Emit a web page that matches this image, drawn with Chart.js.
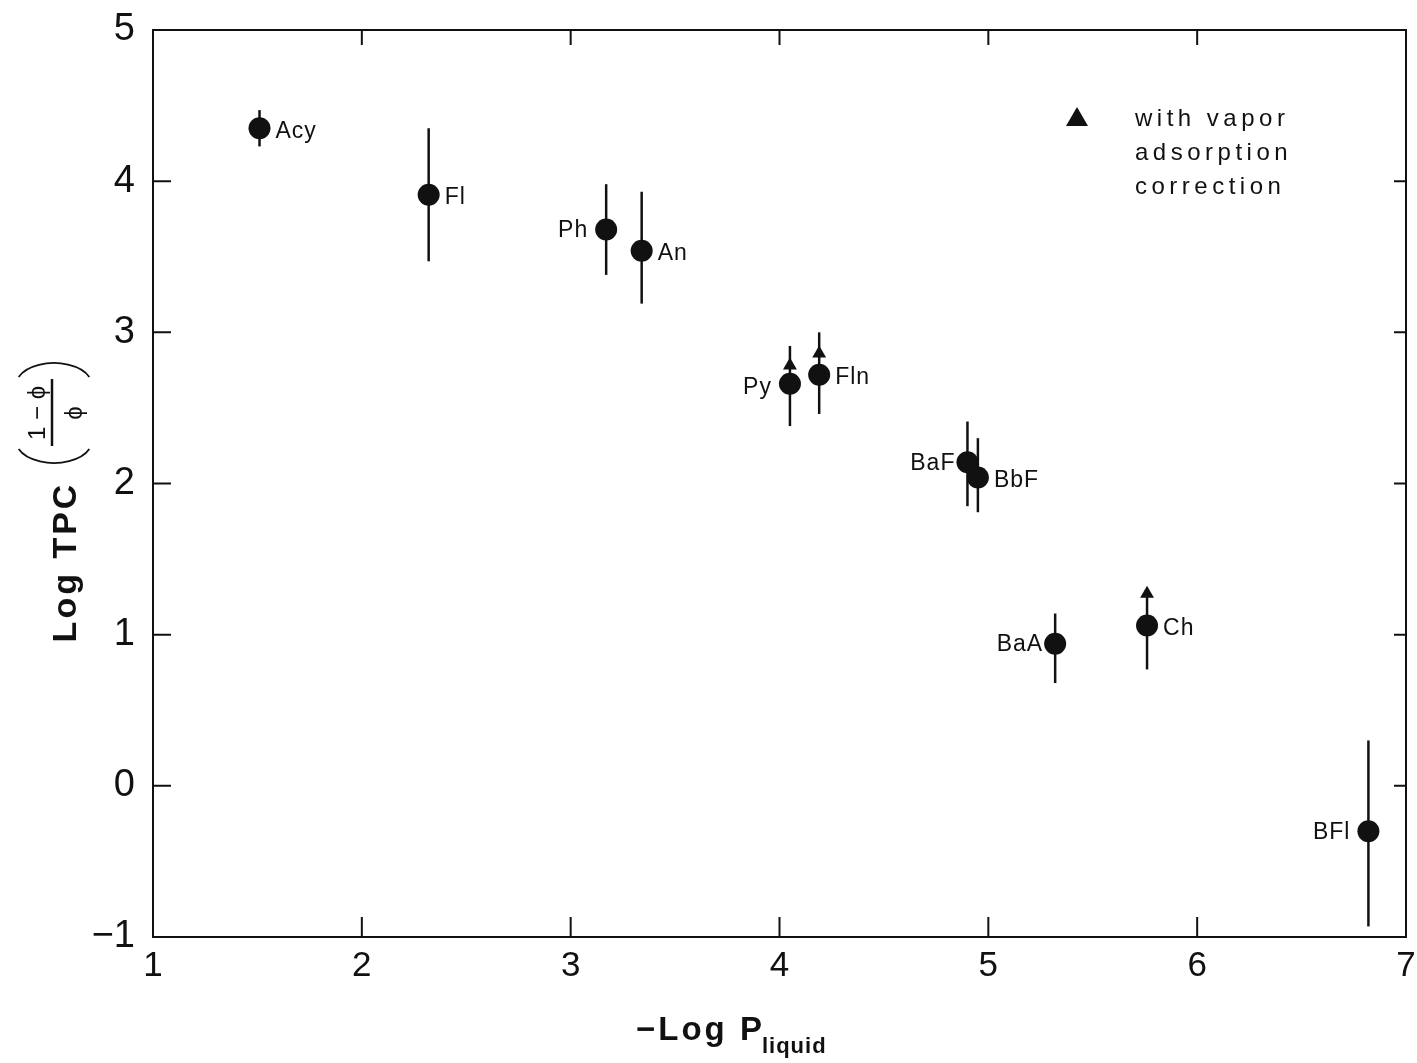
<!DOCTYPE html>
<html>
<head>
<meta charset="utf-8">
<script src="https://cdn.jsdelivr.net/npm/chart.js@4.4.1/dist/chart.umd.min.js"></script>
<style>
  html, body { margin: 0; padding: 0; background: #fff; }
  #wrap { width: 1417px; height: 1063px; }
</style>
</head>
<body>
<div id="wrap"><canvas id="chart" width="1417" height="1063"></canvas></div>
<script>
// compounds, -log P(liquid), log TPC and error bar ends
const names  = ['Acy', 'Fl', 'Ph', 'An', 'Py', 'Fln', 'BaF', 'BbF', 'BaA', 'Ch', 'BFl'];
const logP   = [1.51, 2.32, 3.17, 3.34, 4.05, 4.19, 4.90, 4.95, 5.32, 5.76, 6.82];
const logTPC = [4.35, 3.91, 3.68, 3.54, 2.66, 2.72, 2.14, 2.04, 0.94, 1.06, -0.30];
const errHi  = [4.47, 4.35, 3.98, 3.93, 2.91, 3.00, 2.41, 2.30, 1.14, 1.27, 0.30];
const errLo  = [4.23, 3.47, 3.38, 3.19, 2.38, 2.46, 1.85, 1.81, 0.68, 0.77, -0.93];
// vapor adsorption corrected values
const corrX  = [4.05, 4.19, 5.76];
const corrY  = [2.78, 2.86, 1.27];
const xTicks = [1, 2, 3, 4, 5, 6, 7];
const yTicks = [-1, 0, 1, 2, 3, 4, 5];

const labelLeft = ['Ph', 'Py', 'BaF', 'BaA', 'BFl'];
const ink = '#111';
const font = '"Liberation Sans", Arial, sans-serif';

const errorBars = {
  id: 'errorBars',
  beforeDatasetsDraw(chart) {
    const {ctx, scales: {x, y}} = chart;
    ctx.save();
    ctx.strokeStyle = ink;
    ctx.lineWidth = 2.5;
    logP.forEach((v, i) => {
      const px = x.getPixelForValue(v);
      ctx.beginPath();
      ctx.moveTo(px, y.getPixelForValue(errHi[i]));
      ctx.lineTo(px, y.getPixelForValue(errLo[i]));
      ctx.stroke();
    });
    ctx.restore();
  }
};

const decorations = {
  id: 'decorations',
  afterDraw(chart) {
    const {ctx, chartArea: a, scales: {x, y}} = chart;
    ctx.save();
    // frame
    ctx.strokeStyle = ink;
    ctx.lineWidth = 2;
    ctx.strokeRect(a.left, a.top, a.right - a.left, a.bottom - a.top);
    // inward ticks on all sides
    ctx.beginPath();
    xTicks.forEach(t => {
      const px = x.getPixelForValue(t);
      ctx.moveTo(px, a.bottom); ctx.lineTo(px, a.bottom - 20);
      ctx.moveTo(px, a.top); ctx.lineTo(px, a.top + 15);
    });
    yTicks.forEach(t => {
      const py = y.getPixelForValue(t);
      ctx.moveTo(a.left, py); ctx.lineTo(a.left + 18, py);
      ctx.moveTo(a.right, py); ctx.lineTo(a.right - 12, py);
    });
    ctx.stroke();

    // point labels
    ctx.fillStyle = ink;
    ctx.font = '23px ' + font;
    ctx.letterSpacing = '1px';
    ctx.textBaseline = 'middle';
    names.forEach((n, i) => {
      const px = x.getPixelForValue(logP[i]);
      const py = y.getPixelForValue(logTPC[i]);
      if (labelLeft.includes(n)) {
        ctx.textAlign = 'right';
        const gap = (n === 'BaF' || n === 'BaA') ? 12 : 18;
        const dy = n === 'Py' ? 4 : 1;
        ctx.fillText(n, px - gap, py + dy);
      } else {
        ctx.textAlign = 'left';
        ctx.fillText(n, px + 16, py + 3);
      }
    });

    // legend
    ctx.letterSpacing = '4.5px';
    ctx.font = '24px ' + font;
    ctx.textAlign = 'left';
    ctx.textBaseline = 'alphabetic';
    ['with vapor', 'adsorption', 'correction'].forEach((s, i) => {
      ctx.fillText(s, 1135, 126 + i * 34);
    });
    ctx.beginPath();
    ctx.moveTo(1077, 107); ctx.lineTo(1088, 126); ctx.lineTo(1066, 126); ctx.closePath();
    ctx.fill();
    ctx.letterSpacing = '0px';

    // y axis title, rotated
    ctx.translate(62, 562);
    ctx.rotate(-Math.PI / 2);
    ctx.font = 'bold 34px ' + font;
    ctx.letterSpacing = '3px';
    ctx.textAlign = 'center';
    ctx.textBaseline = 'alphabetic';
    ctx.fillText('Log TPC', 0, 14);
    ctx.letterSpacing = '0px';
    ctx.font = '24px ' + font;
    ctx.fillText('1 \u2212 \u03d5', 149, -17);
    ctx.fillText('\u03d5', 149, 20);
    ctx.lineWidth = 2.5;
    ctx.beginPath();
    ctx.moveTo(116, -10); ctx.lineTo(183, -10);
    ctx.stroke();
    // thin parentheses
    ctx.lineWidth = 1.8;
    ctx.beginPath();
    ctx.ellipse(121, -8, 22, 38, 0, Math.PI * 0.62, Math.PI * 1.38);
    ctx.stroke();
    ctx.beginPath();
    ctx.ellipse(177, -8, 22, 38, 0, -Math.PI * 0.38, Math.PI * 0.38);
    ctx.stroke();
    ctx.restore();

    // x axis title
    ctx.save();
    ctx.fillStyle = ink;
    ctx.font = 'bold 33px ' + font;
    ctx.letterSpacing = '3px';
    ctx.textAlign = 'left';
    ctx.textBaseline = 'alphabetic';
    ctx.fillText('\u2212Log P', 636, 1040);
    const w = ctx.measureText('\u2212Log P').width;
    ctx.font = 'bold 22px ' + font;
    ctx.letterSpacing = '1px';
    ctx.fillText('liquid', 633 + w, 1053);
    ctx.restore();
  }
};

new Chart(document.getElementById('chart').getContext('2d'), {
  type: 'scatter',
  data: {
    datasets: [
      {
        label: 'log TPC',
        data: logP.map((v, i) => ({x: v, y: logTPC[i]})),
        pointStyle: 'circle',
        pointRadius: 11,
        pointHoverRadius: 11,
        backgroundColor: ink,
        borderColor: ink,
        borderWidth: 0
      },
      {
        label: 'with vapor adsorption correction',
        data: corrX.map((v, i) => ({x: v, y: corrY[i]})),
        pointStyle: 'triangle',
        pointRadius: 8,
        pointHoverRadius: 8,
        backgroundColor: ink,
        borderColor: ink,
        borderWidth: 0
      }
    ]
  },
  options: {
    responsive: false,
    animation: false,
    layout: {padding: {left: 0, right: 6, top: 30, bottom: 0}},
    plugins: {legend: {display: false}, tooltip: {enabled: false}},
    scales: {
      x: {
        type: 'linear', min: 1, max: 7,
        afterBuildTicks: s => { s.ticks = xTicks.map(v => ({value: v})); },
        afterFit: s => { s.height = 126; },
        grid: {display: false},
        border: {display: false},
        ticks: {color: ink, font: {size: 35, family: font}, padding: 0, maxRotation: 0}
      },
      y: {
        type: 'linear', min: -1, max: 5,
        afterBuildTicks: s => { s.ticks = yTicks.map(v => ({value: v})); },
        afterFit: s => { s.width = 153; },
        grid: {display: false},
        border: {display: false},
        ticks: {color: ink, font: {size: 38, family: font, lineHeight: 1}, padding: 10,
                callback: v => v < 0 ? '\u2212' + Math.abs(v) : String(v)}
      }
    }
  },
  plugins: [errorBars, decorations]
});
</script>
</body>
</html>
